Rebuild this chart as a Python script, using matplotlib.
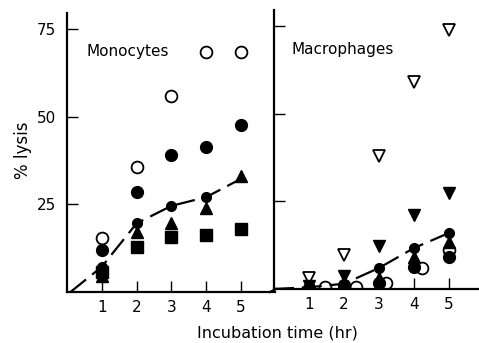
import matplotlib.pyplot as plt

# monocytes panel
hours = [1, 2, 3, 4, 5]
mono_open_circ = [15.5, 35.7, 56, 68.6, 68.6]
mono_fill_circ = [12, 28.6, 39, 41.5, 47.7]
mono_triangle = [4.5, 17.2, 19.7, 24, 33]
mono_square = [5.8, 12.8, 15.6, 16.3, 18]
mono_line_x = [0.1, 1, 2, 3, 4, 4.9]
mono_line_y = [0, 7.2, 19.6, 24.6, 27.1, 31.8]
mono_dot_x = [1, 2, 3, 4]
mono_dot_y = [7.2, 19.6, 24.6, 27.1]

# macrophages panel
mac_open_tri = [3, 9.7, 38, 59, 74]
mac_fill_tri = [0.8, 3.7, 12.3, 21, 27.5]
mac_up_tri = [0.5, 2, 3, 9, 13.5]
mac_fill_circ = [0.3, 1, 1.8, 6.3, 9]
mac_open_x = [1.45, 2.35, 3.2, 4.23, 5]
mac_open_circ = [0.5, 0.5, 1.8, 6, 11]
mac_line_x = [0, 1, 2, 3, 4, 5]
mac_line_y = [0, 0.5, 1.5, 6, 11.7, 16]
mac_dot_x = [3, 4, 5]
mac_dot_y = [6, 11.7, 16]

yticks = [25, 50, 75]

fig = plt.figure(figsize=(4.79, 3.43), dpi=100)
ax1 = fig.add_axes([67/479, 51/343, 208/479, 279/343])
ax2 = fig.add_axes([274/479, 54/343, 205/479, 279/343])

for ax in (ax1, ax2):
    ax.set_ylim(0, 79.7)
    ax.spines['top'].set_visible(False)
    ax.spines['right'].set_visible(False)
    ax.spines['left'].set_linewidth(1.6)
    ax.spines['bottom'].set_linewidth(1.6)
    ax.set_xticks(hours)
    ax.set_xticklabels([str(h) for h in hours], fontsize=11)
    ax.set_yticks(yticks)
    ax.tick_params(direction='in', length=8, width=1, pad=6)
    ax.patch.set_alpha(0)

ax1.set_xlim(0, 5.98)
ax2.set_xlim(0, 5.86)
ax1.set_yticklabels([str(v) for v in yticks], fontsize=11)
ax2.set_yticklabels([])
ax1.tick_params(axis='y', pad=8)

ms = 8.5
k = 'black'
ax1.plot(hours, mono_open_circ, 'o', mfc='white', mec=k, mew=1.3, ms=ms, ls='none')
ax1.plot(hours, mono_fill_circ, 'o', color=k, ms=ms, ls='none')
ax1.plot(hours, mono_triangle, '^', color=k, ms=ms + 0.5, ls='none')
ax1.plot(hours, mono_square, 's', color=k, ms=ms - 0.5, ls='none')
ax1.plot(mono_line_x, mono_line_y, color=k, lw=1.6, dashes=(9, 3.5))
ax1.plot(mono_dot_x, mono_dot_y, 'o', color=k, ms=7, ls='none')
ax1.text(0.57, 68.6, 'Monocytes', fontsize=11, va='center')

ax2.plot(hours, mac_open_tri, 'v', mfc='white', mec=k, mew=1.3, ms=ms + 0.5, ls='none')
ax2.plot(mac_open_x, mac_open_circ, 'o', mfc='white', mec=k, mew=1.3, ms=ms, ls='none', zorder=1)
ax2.plot(hours, mac_fill_tri, 'v', color=k, ms=ms + 0.5, ls='none')
ax2.plot(hours, mac_up_tri, '^', color=k, ms=ms + 0.5, ls='none')
ax2.plot(hours, mac_fill_circ, 'o', color=k, ms=ms, ls='none')
ax2.plot(mac_line_x, mac_line_y, color=k, lw=1.6, dashes=(9, 3.5))
ax2.plot(mac_dot_x, mac_dot_y, 'o', color=k, ms=7, ls='none')
ax2.text(0.5, 68.3, 'Macrophages', fontsize=11, va='center')

# connector from the left panel's axis end to the right panel's origin
fig.add_artist(plt.Line2D([270/479, 276/479], [51/343, 54/343], color=k, lw=1.6))

fig.text(23/479, 1 - 150/343, '% lysis', rotation=90, fontsize=12, ha='center', va='center')
fig.text(277/479, 1 - 333/343, 'Incubation time (hr)', fontsize=11.5, ha='center', va='center')

fig.savefig('out.png', dpi=100)
